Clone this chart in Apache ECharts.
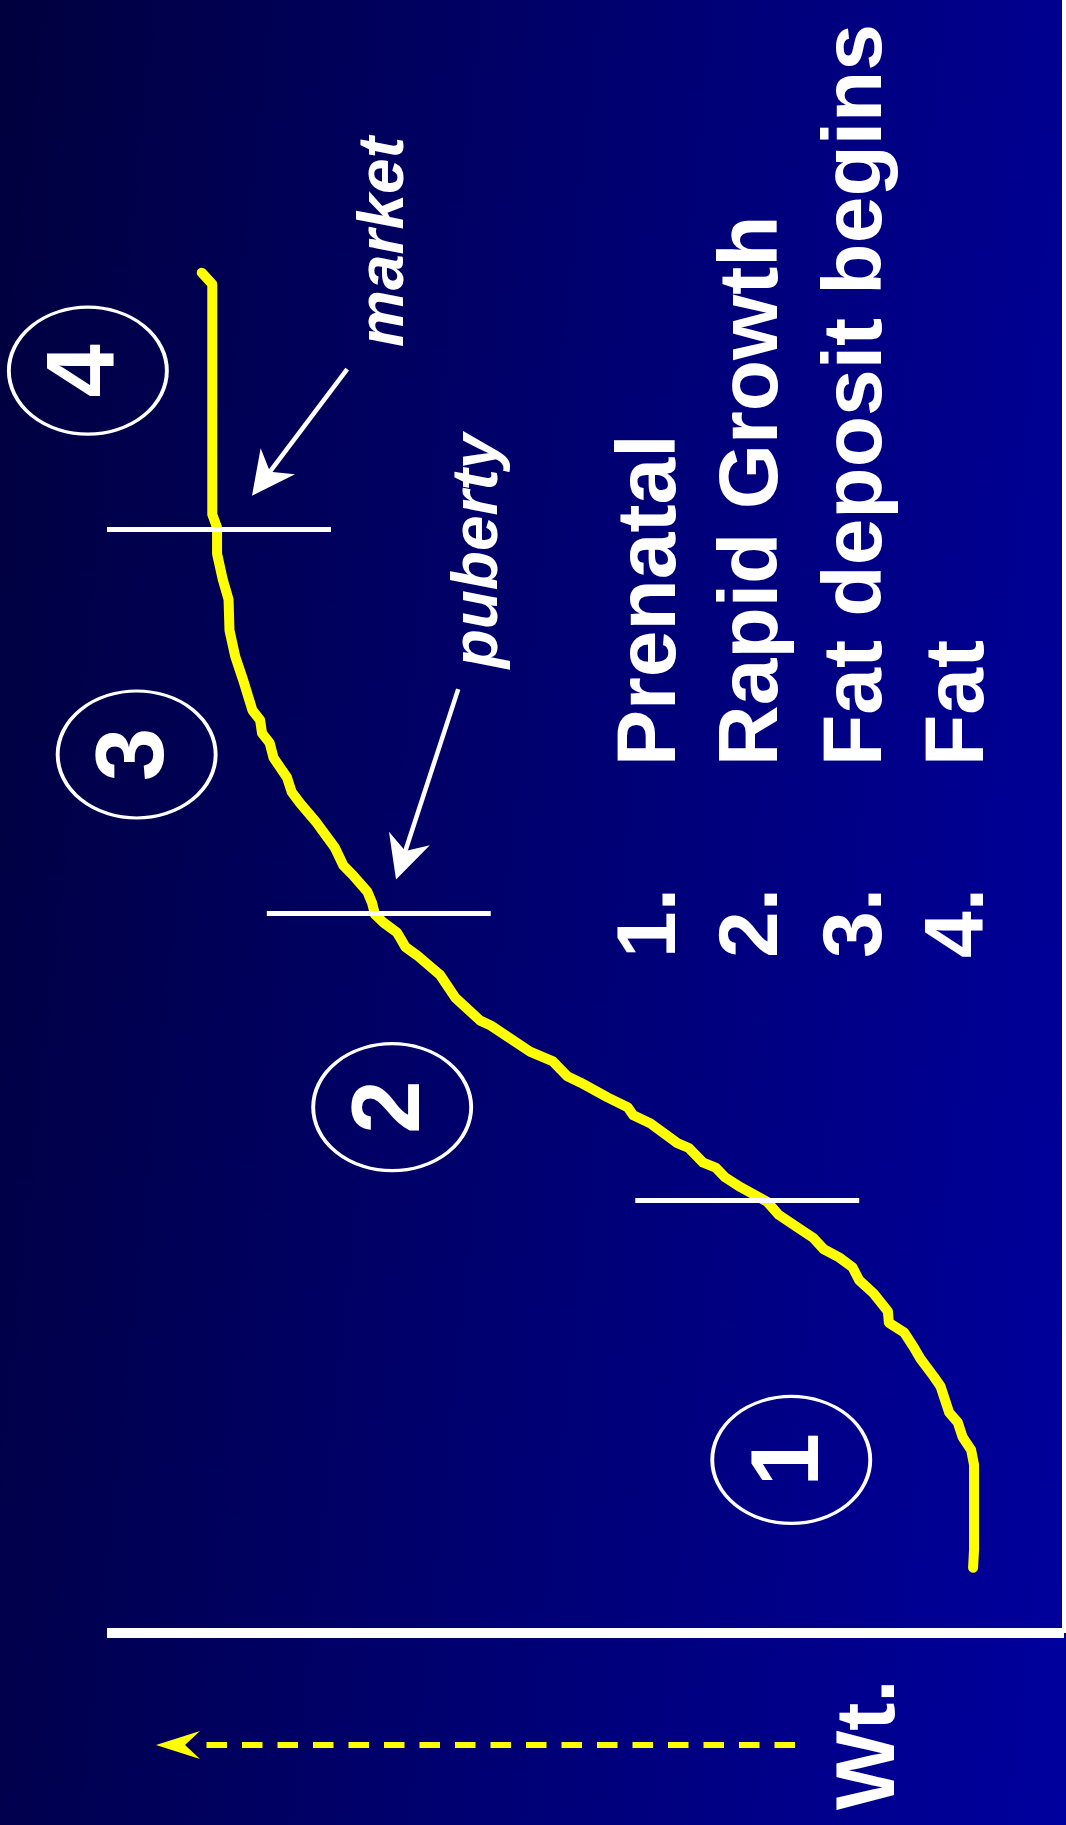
<!DOCTYPE html>
<html>

<head>
  <meta charset="utf-8">
  <script src="https://cdn.jsdelivr.net/npm/echarts@6/dist/echarts.min.js"></script>
  <style>
    html,
    body {
      margin: 0;
      padding: 0;
    }

    #chart {
      width: 1066px;
      height: 1825px;
      background: linear-gradient(96deg, #00003e 0%, #000070 50%, #00009e 100%);
    }
  </style>
</head>

<body>
  <div id="chart"></div>
  <script>
    // growth curve, [weight, time]; weight grows to the left, time grows upward
    const weight = [9.5, 9.4, 9.4, 9.7, 10.6, 11.1, 12.0, 12.9, 13.6, 15.0, 15.7, 16.7, 18.3, 18.4, 19.9, 21.4, 22.1, 23.5,
      25.1, 26.2, 27.5, 29.8, 31.0, 33.8, 35.4, 36.4, 37.7, 39.2, 40.4, 43.2, 45.0, 45.6, 47.7, 50.5, 51.9, 53.4, 55.8,
      59.9, 61.0, 63.6, 65.2, 66.2, 67.6, 68.8, 69.7, 71.1, 72.0, 72.3, 72.8, 74.3, 75.3, 76.2, 77.2, 78.2, 79.8, 80.7,
      81.2, 82.6, 83.0, 83.8, 84.0, 84.8, 85.8, 86.6, 87.2, 87.3, 87.9, 88.5, 88.5, 89.0, 89.0, 90.1]
    const time = [4.0, 5.1, 10.3, 11.2, 12.0, 12.9, 13.5, 15.1, 15.7, 16.8, 17.5, 18.4, 19.0, 19.7, 20.8, 21.6, 22.4, 23.0,
      23.5, 24.2, 24.7, 25.6, 26.4, 27.3, 27.9, 28.5, 28.8, 29.7, 30.0, 31.2, 31.7, 32.2, 32.8, 33.7, 34.1, 35.0, 35.6,
      37.2, 37.5, 38.9, 40.3, 40.8, 41.5, 42.0, 42.9, 43.5, 44.0, 44.7, 45.4, 46.4, 47.0, 48.1, 48.9, 49.7, 50.8, 51.5,
      52.4, 53.6, 54.5, 55.1, 55.9, 56.5, 58.4, 59.8, 61.4, 63.3, 64.5, 66.1, 67.7, 68.5, 82.6, 83.3]

    const stageNames = ['Prenatal', 'Rapid Growth', 'Fat deposit begins', 'Fat']
    // stage boundaries: [time, weight at centre of the mark]
    const stageBreaks = [[26.5, 33.1], [44.1, 71.6], [67.6, 88.3]]
    // circled stage numbers: [weight, time]
    const stageCircles = [[28.5, 10.6], [70.2, 32.2], [96.9, 53.8], [102.0, 77.3]]
    // pointers: from / to (centre of the arrow head) in [weight, time]
    const pointers = [
      { name: 'market', from: [74.9, 77.4], to: [83.5, 70.7] },
      { name: 'puberty', from: [63.3, 57.8], to: [69.1, 47.4] }
    ]

    const font = '"Liberation Sans", Arial, sans-serif'

    const listGraphics = []
    const baselines = [694, 796, 900, 1002]
    stageNames.forEach((name, i) => {
      listGraphics.push({
        type: 'text', x: baselines[i], y: 958, rotation: Math.PI / 2,
        style: { text: (i + 1) + '.', fill: '#fff', font: 'bold 84px ' + font, textAlign: 'left', textVerticalAlign: 'bottom' }
      })
      listGraphics.push({
        type: 'text', x: baselines[i], y: 766, rotation: Math.PI / 2,
        style: { text: name, fill: '#fff', font: 'bold 84px ' + font, textAlign: 'left', textVerticalAlign: 'bottom' }
      })
    })

    const option = {
      animation: false,
      backgroundColor: 'transparent',
      grid: { left: 107, right: 2, top: 0, bottom: 192 },
      xAxis: {
        type: 'value', inverse: true, min: 0, max: 100,
        axisLine: { show: true, onZero: false, lineStyle: { color: '#fff', width: 10, cap: 'butt' } },
        axisTick: { show: false }, axisLabel: { show: false }, splitLine: { show: false }
      },
      yAxis: {
        type: 'value', position: 'right', min: 0, max: 100,
        axisLine: { show: true, onZero: false, lineStyle: { color: '#fff', width: 4, cap: 'butt' } },
        axisTick: { show: false }, axisLabel: { show: false }, splitLine: { show: false }
      },
      series: [
        {
          type: 'line',
          data: weight.map((w, i) => [w, time[i]]),
          showSymbol: false,
          z: 2,
          lineStyle: { color: '#ffff00', width: 10, cap: 'round', join: 'round' }
        },
        {
          type: 'lines',
          coordinateSystem: 'cartesian2d',
          z: 3,
          symbol: 'none',
          lineStyle: { color: '#fff', width: 5, opacity: 1 },
          data: stageBreaks.map(b => ({ coords: [[b[1] - 11.7, b[0]], [b[1] + 11.7, b[0]]] }))
        },
        {
          type: 'lines',
          coordinateSystem: 'cartesian2d',
          z: 3,
          symbol: ['none', 'path://M0,0 L14,43 L0,30 L-14,43 Z'],
          symbolSize: [28, 43],
          lineStyle: { color: '#fff', width: 4.5, opacity: 1 },
          data: pointers.map(p => ({ coords: [p.from, p.to] }))
        },
        {
          type: 'scatter',
          clip: false,
          z: 3,
          symbol: 'circle',
          symbolSize: [158, 127],
          itemStyle: { color: 'rgba(0,0,0,0)', borderColor: '#fff', borderWidth: 3.5, opacity: 1 },
          label: {
            show: true, position: 'inside', rotate: 90, formatter: '{b}', padding: [34, 0, 0, 0],
            color: '#fff', fontSize: 96, fontWeight: 'bold', fontFamily: font
          },
          data: stageCircles.map((c, i) => ({ name: String(i + 1), value: c }))
        }
      ],
      graphic: [
        {
          type: 'text', x: 417, y: 242, rotation: Math.PI / 2,
          style: { text: pointers[0].name, fill: '#fff', font: 'italic bold 64px ' + font, textAlign: 'center', textVerticalAlign: 'bottom' }
        },
        {
          type: 'text', x: 511, y: 551, rotation: Math.PI / 2,
          style: { text: pointers[1].name, fill: '#fff', font: 'italic bold 64px ' + font, textAlign: 'center', textVerticalAlign: 'bottom' }
        },
        {
          type: 'text', x: 913, y: 1810, rotation: Math.PI / 2,
          style: { text: 'Wt.', fill: '#fff', font: 'bold 84px ' + font, textAlign: 'left', textVerticalAlign: 'bottom' }
        },
        {
          type: 'line',
          shape: { x1: 795, y1: 1745, x2: 200, y2: 1745 },
          style: { stroke: '#ffff00', lineWidth: 6, lineDash: [20.5, 15] }
        },
        {
          type: 'polygon',
          shape: { points: [[156, 1745], [200, 1731], [185, 1745], [200, 1759]] },
          style: { fill: '#ffff00' }
        }
      ].concat(listGraphics)
    }

    const chart = echarts.init(document.getElementById('chart'))
    chart.setOption(option)
  </script>
</body>

</html>
